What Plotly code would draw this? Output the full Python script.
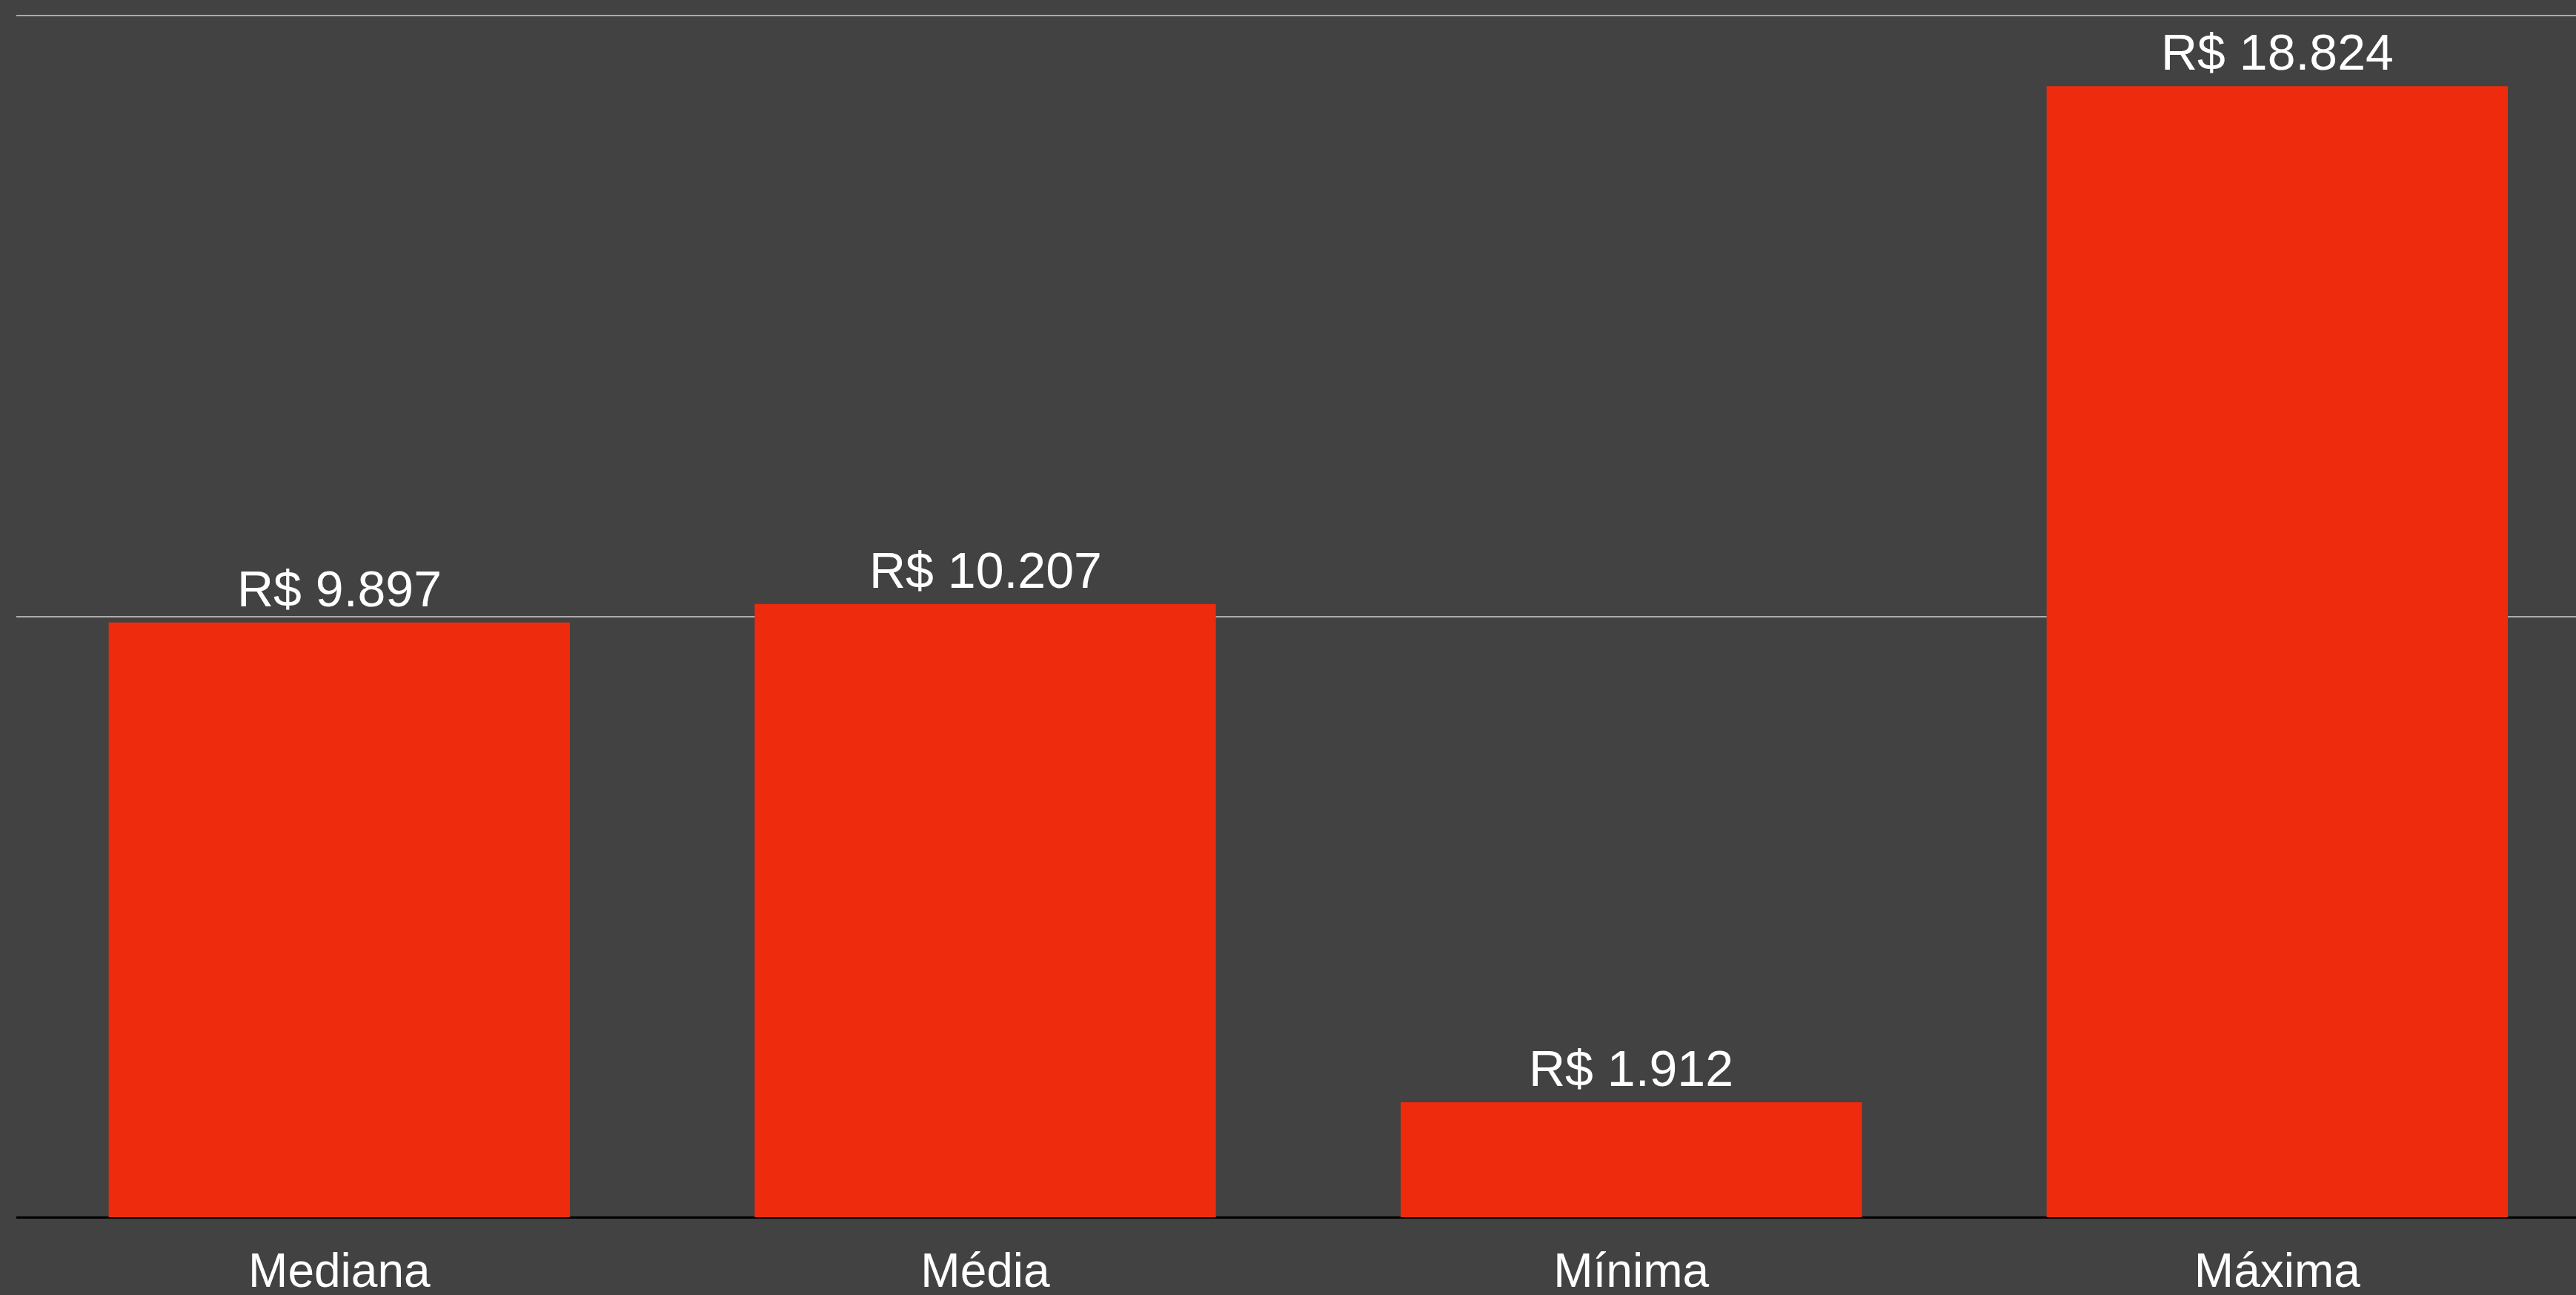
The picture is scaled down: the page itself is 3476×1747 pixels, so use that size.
import plotly.graph_objects as go

categories = ["Mediana", "Média", "Mínima", "Máxima"]
values = [9897, 10207, 1912, 18824]
y_ticks = [0, 10000, 20000]

BG = "#424242"
BAR = "#EE2B0C"
FONT = "Liberation Sans, Arial, sans-serif"


def brl(v):
    return "R$ " + f"{v:,.0f}".replace(",", ".")


fig = go.Figure()
fig.add_trace(go.Bar(
    x=categories,
    y=values,
    width=0.714,
    marker=dict(color=BAR, line=dict(width=0)),
    hoverinfo="skip",
))

for c, v in zip(categories, values):
    fig.add_annotation(
        x=c, y=v, text=brl(v),
        xref="x", yref="y",
        showarrow=False,
        yanchor="bottom",
        yshift=6,
        font=dict(family=FONT, size=68, color="white"),
    )

fig.update_layout(
    width=3476,
    height=1747,
    paper_bgcolor=BG,
    plot_bgcolor=BG,
    margin=dict(l=22, r=0, t=19, b=105, autoexpand=False),
    showlegend=False,
    bargap=0.286,
)
fig.update_xaxes(
    range=[-0.5, 3.4625],
    showgrid=False,
    showline=False,
    ticks="",
    tickfont=dict(family=FONT, size=64, color="white"),
    ticklabelstandoff=29,
    automargin=False,
    fixedrange=True,
)
fig.update_yaxes(
    range=[0, 20025],
    tickvals=y_ticks,
    showticklabels=False,
    showgrid=True,
    gridcolor="#ABABAB",
    gridwidth=2,
    zeroline=True,
    zerolinecolor="#000000",
    zerolinewidth=3,
    showline=False,
    automargin=False,
    fixedrange=True,
)

fig.write_html(
    "out.html",
    config={"displayModeBar": False},
    post_script="document.body.style.margin='0';document.body.style.padding='0';document.body.style.overflow='hidden';",
)
